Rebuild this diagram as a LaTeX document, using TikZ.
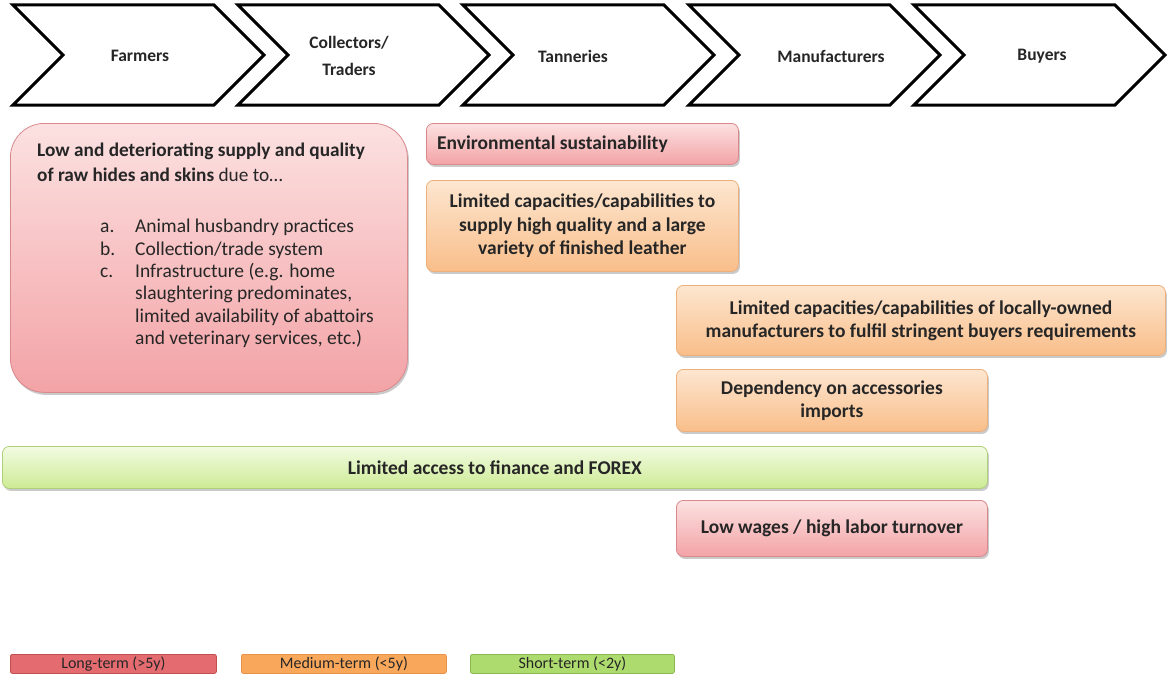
\documentclass[tikz,border=0pt]{standalone}
\usepackage{fontspec}
\setmainfont{Carlito}
\usetikzlibrary{shadows}
\definecolor{redtop}{HTML}{FCE1E1}
\definecolor{redbot}{HTML}{F3A3A6}
\definecolor{redline}{HTML}{D9888C}
\definecolor{orgtop}{HTML}{FDE6D0}
\definecolor{orgbot}{HTML}{F9BE8A}
\definecolor{orgline}{HTML}{EDB07A}
\definecolor{grntop}{HTML}{F2FBE2}
\definecolor{grnbot}{HTML}{CDEB95}
\definecolor{grnline}{HTML}{AFCF7A}
\definecolor{legred}{HTML}{E46C70}
\definecolor{legredline}{HTML}{C0504D}
\definecolor{legorg}{HTML}{F9A75A}
\definecolor{legorgline}{HTML}{E8914A}
\definecolor{leggrn}{HTML}{AEDB6E}
\definecolor{leggrnline}{HTML}{8DB752}
\definecolor{txt}{HTML}{262626}
\begin{document}
\begin{tikzpicture}[x=1pt,y=-1pt,
  chev/.style={draw=black, line width=3pt, line join=miter, fill=white},
  chevlabel/.style={font=\fontsize{17.5}{27}\selectfont\bfseries, text=txt, align=center},
  shadowed/.style={drop shadow={shadow xshift=1.5pt, shadow yshift=-2.5pt, opacity=0.35, fill=black!60}},
  boxbase/.style={anchor=north west, rounded corners=7pt, line width=0.8pt, shadowed,
    inner sep=0pt, align=center, text=txt, font=\fontsize{19.5}{23}\selectfont\bfseries},
  redbox/.style={boxbase, draw=redline, top color=redtop, bottom color=redbot},
  orgbox/.style={boxbase, draw=orgline, top color=orgtop, bottom color=orgbot},
  grnbox/.style={boxbase, draw=grnline, top color=grntop, bottom color=grnbot},
  legbox/.style={anchor=north west, minimum height=19, inner sep=0pt, rounded corners=2pt,
    line width=0.8pt, text=txt, font=\fontsize{16}{18}\selectfont},
]
\useasboundingbox (0,0) rectangle (1168,677);

% value chain chevrons
\foreach \x [count=\i] in {13,238,463,689,914} {
  \draw[chev] (\x,5) -- (\x+201,5) -- (\x+251,55) -- (\x+201,105) -- (\x,105) -- (\x+50,55) -- cycle;
}
\node[chevlabel] (farmers) at (140,56) {Farmers};
\node[chevlabel] (traders) at (349,56) {Collectors/\\Traders};
\node[chevlabel] (tanneries) at (573,56) {Tanneries};
\node[chevlabel] (manuf) at (831,56) {Manufacturers};
\node[chevlabel] (buyers) at (1042,56) {Buyers};

% big red box
\node[redbox, rounded corners=34pt, minimum width=397, minimum height=269] (supply) at (10,123) {};
\node[anchor=north west, inner sep=0pt, align=left, text=txt,
      font=\fontsize{19.3}{25}\selectfont] (supplytxt) at (37,143)
  {\textbf{Low and deteriorating supply and quality}\\\textbf{of raw hides and skins} due to\dots};
\node[anchor=north west, inner sep=0pt, align=left, text=txt,
      font=\fontsize{19.5}{22.3}\selectfont] (supplylist) at (100,217)
  {\begin{tabular}{@{}p{35pt}@{}l@{}}
   a. & Animal husbandry practices\\
   b. & Collection/trade system\\
   c. & Infrastructure (e.g. home\\
      & slaughtering predominates,\\
      & limited availability of abattoirs\\
      & and veterinary services, etc.)
   \end{tabular}};

% other boxes
\node[redbox, minimum width=312, minimum height=41] (env) at (426,123) {};
\node[anchor=west, inner sep=0pt, text=txt, font=\fontsize{19.5}{23}\selectfont\bfseries] (envtxt) at (437,144) {Environmental sustainability};

\node[orgbox, minimum width=312, minimum height=91, font=\fontsize{19.5}{23.5}\selectfont\bfseries] (tancap) at (426,180)
  {Limited capacities/capabilities to\\supply high quality and a large\\variety of finished leather};

\node[orgbox, minimum width=489, minimum height=70] (mancap) at (676,285)
  {Limited capacities/capabilities of locally-owned\\manufacturers to fulfil stringent buyers requirements};

\node[orgbox, minimum width=311, minimum height=62] (access) at (676,369)
  {Dependency on accessories\\imports};

\node[grnbox, minimum width=985, minimum height=42] (finance) at (2,446)
  {Limited access to finance and FOREX};

\node[redbox, minimum width=311, minimum height=56] (wages) at (676,500)
  {Low wages / high labor turnover};

% legend
\node[legbox, draw=legredline, fill=legred, minimum width=206] (leglong) at (10,654) {Long-term (>5y)};
\node[legbox, draw=legorgline, fill=legorg, minimum width=205] (legmed) at (241,654) {Medium-term (<5y)};
\node[legbox, draw=leggrnline, fill=leggrn, minimum width=204] (legshort) at (470,654) {Short-term (<2y)};
\end{tikzpicture}
\end{document}
